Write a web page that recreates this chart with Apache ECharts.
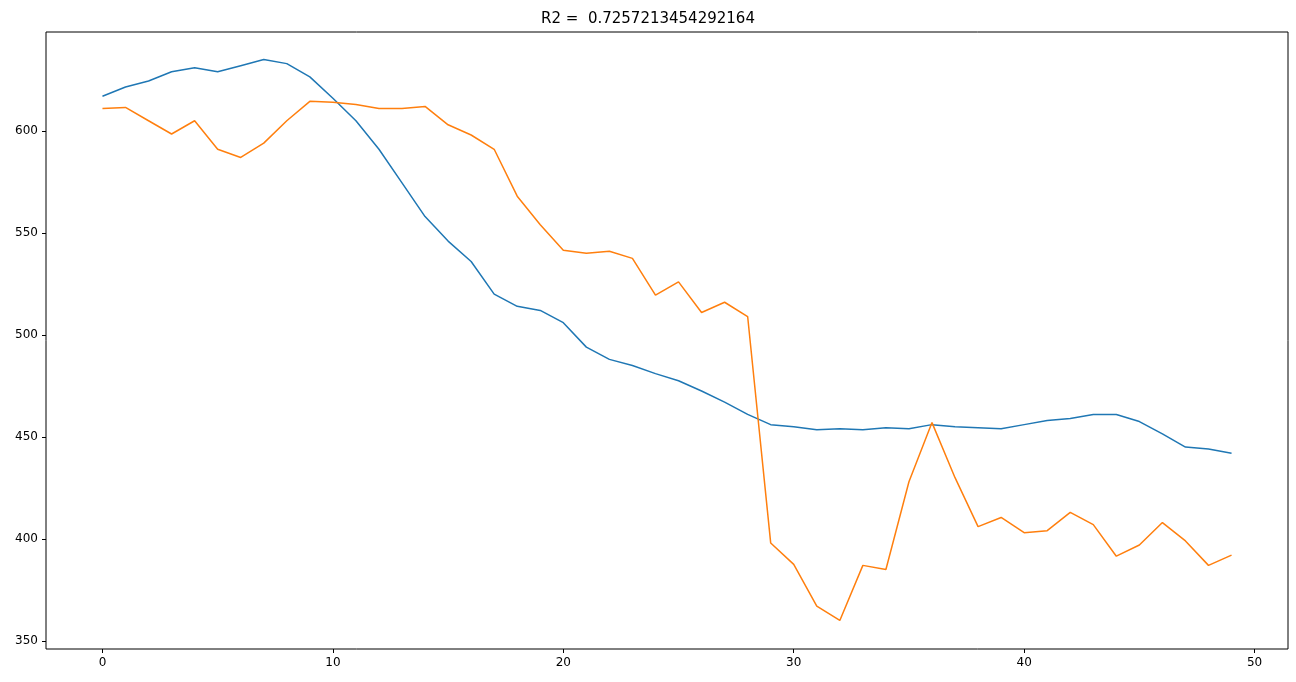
<!DOCTYPE html>
<html><head><meta charset="utf-8">
<script src="https://cdn.jsdelivr.net/npm/echarts@6/dist/echarts.min.js"></script>
<style>html,body{margin:0;padding:0;background:#fff}#c{width:1296px;height:682px}</style>
</head><body><div id="c"></div>
<script>
const titleText = "R2 =  0.7257213454292164";
const xTicks = [0,10,20,30,40,50];
const yTicks = [350,400,450,500,550,600];
const blue = [617,621.5,624.5,629,631,629,632,635,633,626.5,616,605,591,574.5,558,546,536,520,514,512,506,494,488,485,481,477.5,472.5,467,461,456,455,453.5,454,453.5,454.5,454,456,455,454.5,454,456,458,459,461,461,457.5,451.5,445,444,442];
const orange = [611,611.5,605,598.5,605,591,587,594,605,614.5,614,613,611,611,612,603,598,591,568,554,541.5,540,541,537.5,519.5,526,511,516,509,398,387.5,367,360,387,385,428,457,430,406,410.5,403,404,413,407,391.5,397,408,399,387,392];
const toPairs = a => a.map((v,i)=>[i,v]);
const chart = echarts.init(document.getElementById('c'));
const axisCommon = {
  axisLine:{show:false,onZero:false}, splitLine:{show:false},
  axisLabel:{color:'#000',fontSize:12,fontFamily:'DejaVu Sans'},
  axisTick:{lineStyle:{color:'#000'},length:4}
};
chart.setOption({
  animation:false,
  title:{text:titleText,left:'center',top:7,textStyle:{fontWeight:'normal',fontSize:15,color:'#000',fontFamily:'DejaVu Sans'}},
  grid:{left:46,right:8,top:32,bottom:33,show:true,borderColor:'#000',borderWidth:1},
  xAxis:{type:'value',min:-2.45,max:51.45,...axisCommon,
    axisLabel:{...axisCommon.axisLabel,customValues:xTicks,margin:8},
    axisTick:{...axisCommon.axisTick,customValues:xTicks}},
  yAxis:{type:'value',min:346,max:648.5,...axisCommon,
    axisLabel:{...axisCommon.axisLabel,customValues:yTicks,margin:8},
    axisTick:{...axisCommon.axisTick,customValues:yTicks}},
  series:[
    {type:'line',data:toPairs(blue),showSymbol:false,lineStyle:{color:'#1f77b4',width:1.5},itemStyle:{color:'#1f77b4'}},
    {type:'line',data:toPairs(orange),showSymbol:false,lineStyle:{color:'#ff7f0e',width:1.5},itemStyle:{color:'#ff7f0e'}}
  ]
});
</script></body></html>
